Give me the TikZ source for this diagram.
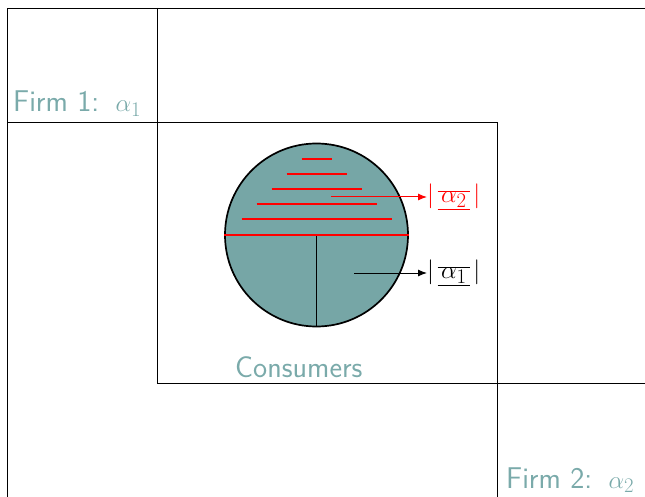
\documentclass[tikz,border=0pt]{standalone}
\usetikzlibrary{arrows.meta}
\definecolor{teal1}{RGB}{118,166,166}
\definecolor{tealtxt}{RGB}{122,170,170}
\tikzset{
  frame/.style={draw=black, line width=0.6pt},
  lbl/.style={text=tealtxt, font=\fontsize{30}{34}\selectfont\sffamily, inner sep=0pt},
  redline/.style={draw=red, line width=1.6pt},
  arr/.style={-{Latex[length=9pt,width=7pt]}, line width=1pt},
  mathlbl/.style={font=\fontsize{31}{36}\selectfont, inner sep=0pt, anchor=west}
}
\begin{document}
\begin{tikzpicture}[x=1pt,y=-1pt]
\useasboundingbox (0,0) rectangle (645,497);
% frames
\draw[frame] (7,497) -- (7,8) -- (645,8);
\draw[frame] (7,122) -- (497,122) -- (497,497);
\draw[frame] (157,8) -- (157,383) -- (645,383);
% labels
\node[lbl, anchor=base west] (f1) at (13,112) {Firm 1:\hspace{4pt} $\alpha_1$};
\node[lbl, anchor=base west] (f2) at (506,488) {Firm 2:\hspace{4pt} $\alpha_2$};
\node[lbl, anchor=base west] (cons) at (235,377) {Consumers};
% circle
\node[circle, draw=black, fill=teal1, line width=1.7pt, minimum size=183pt, inner sep=0pt] (c) at (316.5,235) {};
\coordinate (bot) at (c.south);
\coordinate (mid) at (316.5,235);
\draw[line width=1.5pt] (mid) -- (bot);
\foreach \y/\w in {159/15,174/30,189/45,204/60,219/75}{
  \draw[redline] (316.5-\w,\y) -- (316.5+\w,\y);
}
\draw[redline] (c.west) -- (c.east);
% labels with arrows
\node[mathlbl, text=red] (a2) at (427,197) {$|\mkern2.5mu\overline{\underline{\mkern2.5mu\alpha_2\mkern2.5mu}}\mkern2.5mu|$};
\node[mathlbl] (a1) at (427,273) {$|\mkern2.5mu\overline{\underline{\mkern2.5mu\alpha_1\mkern2.5mu}}\mkern2.5mu|$};
\coordinate (s2) at (331,197);
\coordinate (s1) at (354,273);
\draw[arr, red] (s2) -- (a2.west);
\draw[arr] (s1) -- (a1.west);
\end{tikzpicture}
\end{document}
